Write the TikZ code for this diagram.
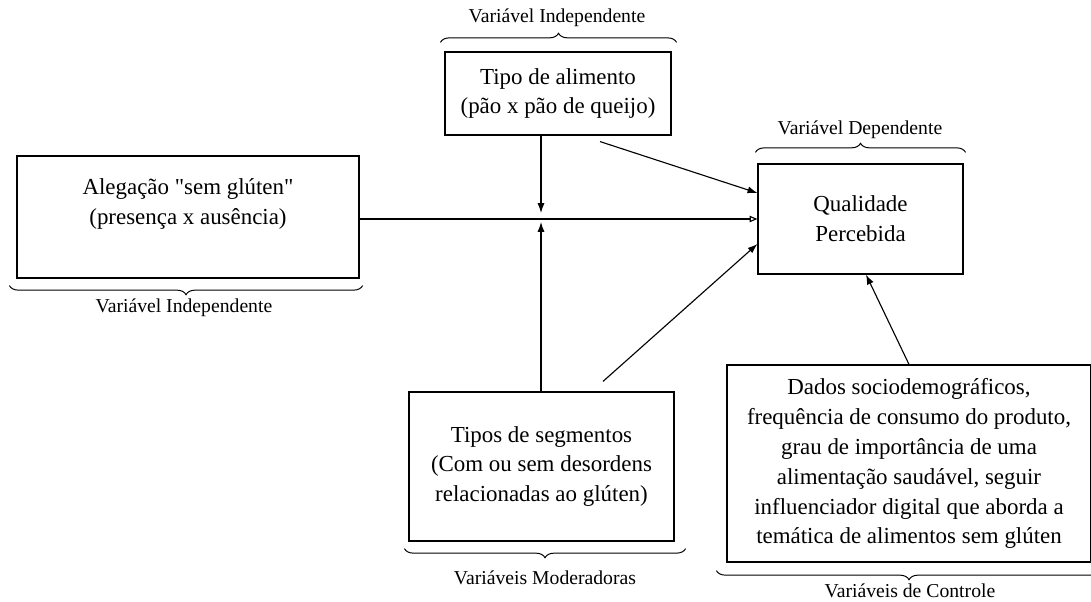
\documentclass[tikz,border=0pt]{standalone}
\usepackage{fontspec}
\setmainfont{Liberation Serif}
\usetikzlibrary{arrows.meta,decorations.pathreplacing}

\begin{document}
\begin{tikzpicture}[x = 0.025cm,
                    y = -0.025cm,
                    line width=0.8pt,
                    box/.style={draw, inner sep=0pt, align=center,
                                font=\fontsize{16.3}{21.3}\selectfont},
                    varlabel/.style={font=\fontsize{14}{16}\selectfont},
                    brace/.style={decorate, decoration={brace, amplitude=6.5pt}, line width=0.7pt},
                    arr/.style={-{Latex[length=7pt,width=5pt]}},
                    openarr/.style={-{Triangle[open,length=5.5pt,width=4.5pt]}}]
\useasboundingbox (0,0) rectangle (1091,602);

\node[box, minimum width=5.65cm, minimum height=2.075cm] (tipo) at (558,93.5)
  {Tipo de alimento\\(pão x pão de queijo)};
\node[box, minimum width=8.55cm, minimum height=3.05cm, text depth=22pt] (aleg) at (188,217)
  {Alegação \textquotedbl sem glúten\textquotedbl\\(presença x ausência)};
\node[box, minimum width=5.125cm, minimum height=2.75cm] (qual) at (860.5,219)
  {Qualidade\\Percebida};
\node[box, minimum width=6.625cm, minimum height=3.725cm] (seg) at (541.5,466.5)
  {Tipos de segmentos\\(Com ou sem desordens\\relacionadas ao glúten)};
\node[box, minimum width=9.1cm, minimum height=4.925cm] (dados) at (909,463.5)
  {Dados sociodemográficos,\\frequência de consumo do produto,\\grau de importância de uma\\alimentação saudável, seguir\\influenciador digital que aborda a\\temática de alimentos sem glúten};

% braces
\draw[brace] ([shift={(-4,-9)}]tipo.north west) -- ([shift={(5,-9)}]tipo.north east);
\node[varlabel] (lbltipo) at (557,18) {Variável Independente};

\draw[brace] ([shift={(-2,-11)}]qual.north west) -- ([shift={(2,-11)}]qual.north east);
\node[varlabel] (lblqual) at (860,130) {Variável Dependente};

\draw[brace] ([shift={(3,7)}]aleg.south east) -- ([shift={(-7,7)}]aleg.south west);
\node[varlabel] (lblaleg) at (184,308) {Variável Independente};

\draw[brace] ([shift={(11,7)}]seg.south east) -- ([shift={(-4,7)}]seg.south west);
\node[varlabel] (lblseg) at (545,578) {Variáveis Moderadoras};

\draw[brace] ([shift={(10,8)}]dados.south east) -- ([shift={(-10,8)}]dados.south west);
\node[varlabel] (lbldados) at (910,591) {Variáveis de Controle};

% arrows
\coordinate (hub) at (541,217);
\draw[openarr] (aleg.east |- qual.west) -- (qual.west);
\draw[arr] (hub |- tipo.south) -- ([shift={(0,-4)}]hub);
\draw[arr] (hub |- seg.north) -- ([shift={(0,5)}]hub);
\draw[arr] ([shift={(42,6)}]tipo.south) -- ([shift={(0,-26)}]qual.west);
\draw[arr] ([shift={(61.5,-10)}]seg.north) -- ([shift={(0,25)}]qual.west);
\draw[arr] (dados.north) -- ([shift={(5.5,0)}]qual.south);

\end{tikzpicture}
\end{document}
